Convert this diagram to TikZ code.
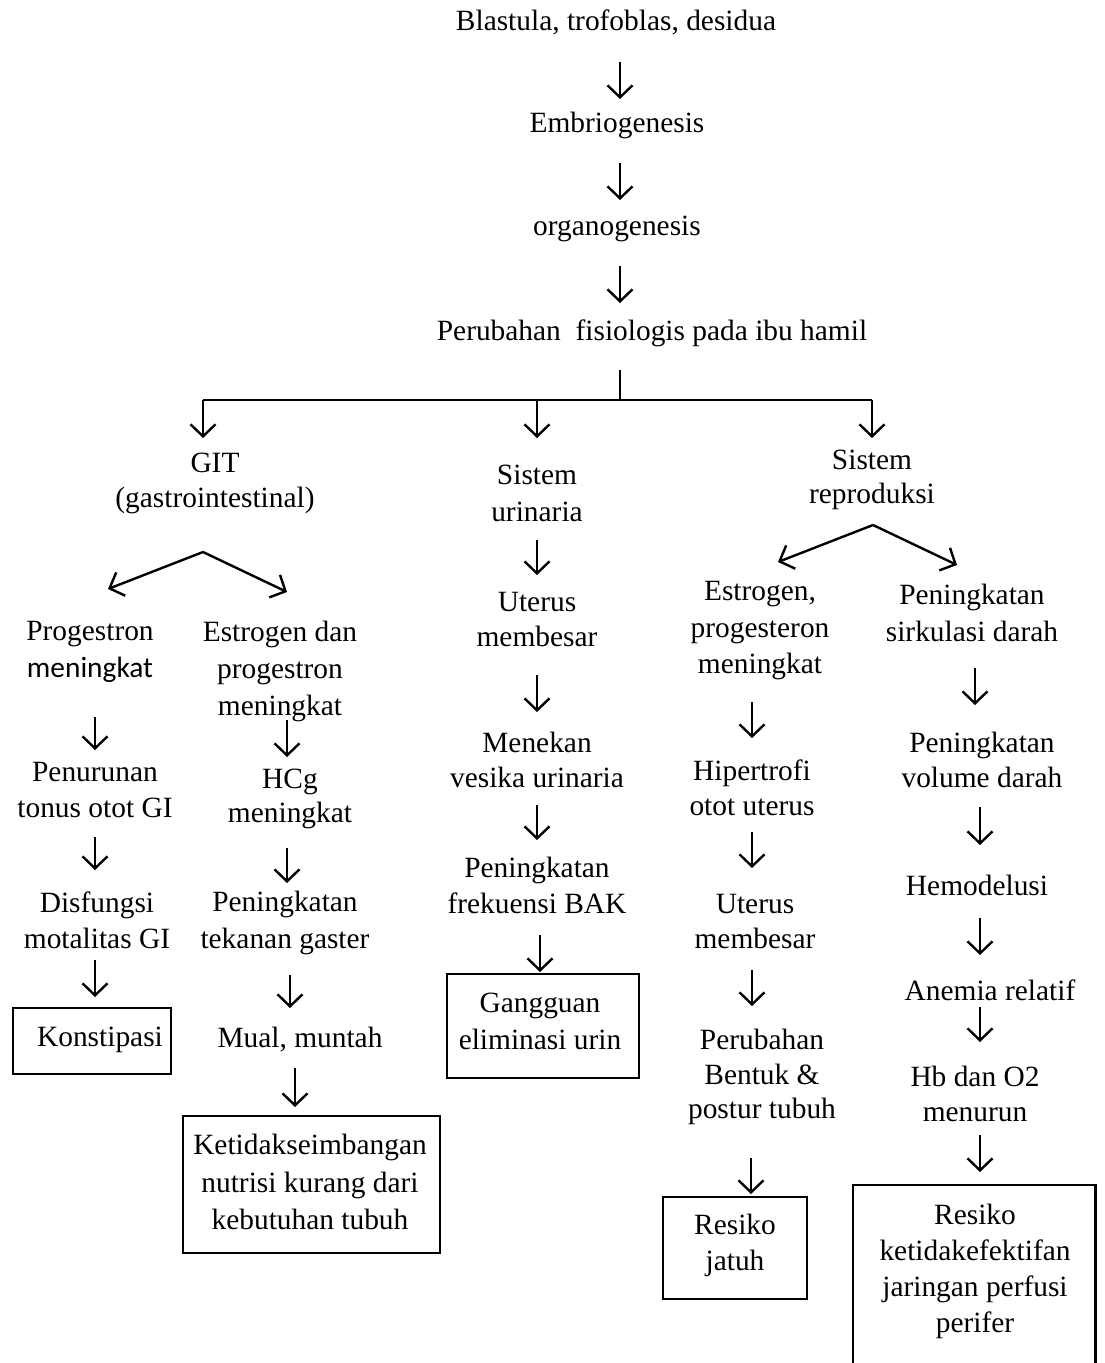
\documentclass[tikz,border=0pt]{standalone}
\usepackage{fontspec}
\setmainfont{Liberation Serif}
\newfontfamily\calfont{Carlito}
\usetikzlibrary{arrows.meta}
\tikzset{
  txt/.style={font=\fontsize{29.4}{36}\selectfont, align=center, inner sep=0pt, anchor=center},
  dn/.style={line width=2.4pt, -{Straight Barb[length=12pt,width=25pt,line width=2.4pt]}},
  brarr/.style={line width=2.4pt, -{Straight Barb[length=12pt,width=25pt,line width=2.4pt]}},
  thin/.style={line width=1.4pt},
  boxed/.style={draw, line width=2.2pt, inner sep=0pt, anchor=north west},
}
\newcommand\myarrow[4]{\coordinate (#1s) at (#2,#3); \coordinate (#1e) at (#2,#4); \draw[dn] (#1s) -- (#1e);}
\begin{document}
\begin{tikzpicture}[x=1pt,y=-1pt]
\useasboundingbox (0,0) rectangle (1105,1363);

% top chain
\node[txt] (blast) at (616,22) {Blastula, trofoblas, desidua};
\myarrow{a1}{620}{62}{99}
\node[txt] (embr) at (617,125) {Embriogenesis};
\myarrow{a2}{620}{163}{200}
\node[txt] (organ) at (617,229) {organogenesis};
\myarrow{a3}{620}{266}{303}
\node[txt] (perub) at (652,333) {Perubahan\ \ fisiologis pada ibu hamil};

% distribution line
\coordinate (t0) at (620,370);
\coordinate (tj) at (620,400);
\coordinate (tl) at (203,400);
\coordinate (tm) at (537,400);
\coordinate (tr) at (872,400);
\draw[thin] (t0) -- (tj);
\draw[thin] (tl) -- (tr);
\coordinate (tle) at (203,438);
\coordinate (tme) at (537,438);
\coordinate (tre) at (872,438);
\draw[dn] (tl) -- (tle);
\draw[dn] (tm) -- (tme);
\draw[dn] (tr) -- (tre);

% GIT column
\node[txt, font=\fontsize{29.4}{35}\selectfont] (git) at (215,483) {GIT\\(gastrointestinal)};
\coordinate (gp) at (203,552);
\coordinate (gl) at (108,589);
\coordinate (gr) at (287,592);
\draw[brarr] (gp) -- (gl);
\draw[brarr] (gp) -- (gr);

\node[txt] (prog) at (90,634) {Progestron};
\node[txt, font=\calfont\fontsize{29.4}{36}\selectfont] (prog2) at (90,670) {meningkat};
\myarrow{b1}{95}{717}{750}
\node[txt, font=\fontsize{29.4}{36}\selectfont] (penur) at (95,790) {Penurunan\\tonus otot GI};
\myarrow{b2}{95}{837}{870}
\node[txt, font=\fontsize{29.4}{36}\selectfont] (disf) at (97,920) {Disfungsi\\motalitas GI};
\myarrow{b3}{95}{960}{997}
\node[boxed, minimum width=158pt, minimum height=66pt] (konst) at (12,1007) {};
\node[txt] (konstt) at (100,1040) {Konstipasi};

\node[txt, font=\fontsize{29.4}{37}\selectfont] (estr) at (280,671) {Estrogen dan\\progestron\\meningkat};
\myarrow{c1}{287}{720}{757}
\node[txt, font=\fontsize{29.4}{34}\selectfont] (hcg) at (290,799) {HCg\\meningkat};
\myarrow{c2}{287}{848}{883}
\node[txt, font=\fontsize{29.4}{37}\selectfont] (penin) at (285,923) {Peningkatan\\tekanan gaster};
\myarrow{c3}{290}{975}{1008}
\node[txt] (mual) at (300,1040) {Mual, muntah};
\myarrow{c4}{295}{1068}{1107}
\node[boxed, minimum width=257pt, minimum height=137pt] (ketid) at (182,1115) {};
\node[txt, font=\fontsize{29.4}{37.5}\selectfont] (ketidt) at (310,1182) {Ketidakseimbangan\\nutrisi kurang dari\\kebutuhan tubuh};

% urinaria column
\node[txt, font=\fontsize{29.4}{37}\selectfont] (uri) at (537,493) {Sistem\\urinaria};
\myarrow{d1}{537}{540}{575}
\node[txt, font=\fontsize{29.4}{35}\selectfont] (uter) at (537,620) {Uterus\\membesar};
\myarrow{d2}{537}{675}{712}
\node[txt, font=\fontsize{29.4}{35}\selectfont] (mene) at (537,760) {Menekan\\vesika urinaria};
\myarrow{d3}{537}{805}{840}
\node[txt, font=\fontsize{29.4}{36}\selectfont] (frek) at (537,885) {Peningkatan\\frekuensi BAK};
\myarrow{d4}{540}{935}{972}
\node[boxed, minimum width=192pt, minimum height=104pt] (gang) at (446,973) {};
\node[txt, font=\fontsize{29.4}{37}\selectfont] (gangt) at (540,1021) {Gangguan\\eliminasi urin};

% reproduksi column
\node[txt, font=\fontsize{29.4}{34}\selectfont] (repro) at (872,480) {Sistem\\reproduksi};
\coordinate (rp) at (873,525);
\coordinate (rl) at (778,562);
\coordinate (rr) at (957,565);
\draw[brarr] (rp) -- (rl);
\draw[brarr] (rp) -- (rr);

\node[txt, font=\fontsize{29.4}{36.5}\selectfont] (estr2) at (760,631) {Estrogen,\\progesteron\\meningkat};
\myarrow{e1}{752}{702}{738}
\node[txt, font=\fontsize{29.4}{35}\selectfont] (hiper) at (752,788) {Hipertrofi\\otot uterus};
\myarrow{e2}{752}{832}{868}
\node[txt, font=\fontsize{29.4}{35}\selectfont] (uter2) at (755,922) {Uterus\\membesar};
\myarrow{e3}{752}{970}{1006}
\node[txt, font=\fontsize{29.4}{34.5}\selectfont] (bentuk) at (762,1077) {Perubahan\\Bentuk \&\\postur tubuh};
\myarrow{e4}{751}{1158}{1194}
\node[boxed, minimum width=144pt, minimum height=102pt] (jatuh) at (662,1196) {};
\node[txt] (jatuht) at (735,1245) {Resiko\\jatuh};

\node[txt, font=\fontsize{29.4}{37}\selectfont] (sirk) at (972,613) {Peningkatan\\sirkulasi darah};
\myarrow{f1}{975}{668}{705}
\node[txt, font=\fontsize{29.4}{35}\selectfont] (vol) at (982,760) {Peningkatan\\volume darah};
\myarrow{f2}{980}{807}{845}
\node[txt] (hemo) at (977,885) {Hemodelusi};
\myarrow{f3}{980}{918}{955}
\node[txt] (anem) at (990,990) {Anemia relatif};
\myarrow{f4}{980}{1007}{1042}
\node[txt, font=\fontsize{29.4}{35}\selectfont] (hb) at (975,1094) {Hb dan O2\\menurun};
\myarrow{f5}{980}{1135}{1172}
\node[inner sep=0pt, minimum width=242pt, minimum height=200pt, anchor=north west] (perf) at (853,1185) {};
\draw[line width=2.2pt] (perf.south west) -- (perf.north west) -- (perf.north east) -- (perf.south east);
\node[txt] (perft) at (975,1271) {Resiko\\ketidakefektifan\\jaringan perfusi\\perifer};
\end{tikzpicture}
\end{document}
